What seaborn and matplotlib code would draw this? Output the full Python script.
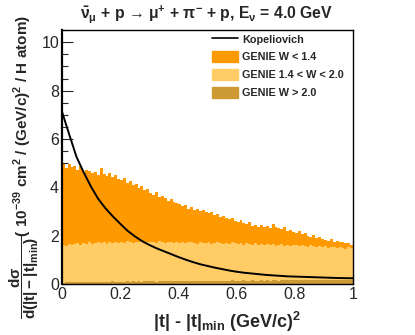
import numpy as np
import pandas as pd
import matplotlib
matplotlib.use("Agg")
import matplotlib.pyplot as plt
import seaborn as sns
from matplotlib.patches import Patch
from matplotlib.lines import Line2D
from matplotlib.ticker import MultipleLocator

# DATA

bin_edges = list(np.round(np.linspace(0, 1, 101), 4))
bin_centers = [round(e + 0.005, 4) for e in bin_edges[:-1]]

# top of the stack (all GENIE)
total_top = [
    4.95, 4.80, 4.98, 4.85, 4.90, 4.72, 4.88, 4.62, 4.70, 4.66,
    4.58, 4.64, 4.52, 4.78, 4.55, 4.48, 4.60, 4.42, 4.50, 4.35,
    4.30, 4.38, 4.18, 4.25, 4.10, 4.15, 3.98, 4.05, 3.88, 3.92,
    3.78, 3.70, 3.82, 3.62, 3.66, 3.58, 3.45, 3.52, 3.40, 3.36,
    3.30, 3.22, 3.28, 3.12, 3.18, 3.05, 3.10, 3.02, 3.08, 2.96,
    2.92, 2.98, 2.84, 2.88, 2.76, 2.80, 2.72, 2.68, 2.74, 2.62,
    2.58, 2.64, 2.52, 2.47, 2.55, 2.42, 2.45, 2.38, 2.44, 2.36,
    2.40, 2.33, 2.48, 2.36, 2.30, 2.26, 2.34, 2.20, 2.24, 2.16,
    2.12, 2.18, 2.06, 2.10, 2.00, 1.96, 2.04, 1.92, 1.95, 1.88,
    1.84, 1.80, 1.86, 1.76, 1.78, 1.72, 1.76, 1.68, 1.70, 1.60,
]

# top of the W > 1.4 part
mid_top = [
    1.62, 1.58, 1.66, 1.60, 1.64, 1.70, 1.62, 1.68, 1.64, 1.72,
    1.66, 1.70, 1.74, 1.68, 1.72, 1.66, 1.76, 1.70, 1.72, 1.68,
    1.74, 1.70, 1.78, 1.72, 1.68, 1.76, 1.72, 1.80, 1.70, 1.74,
    1.72, 1.76, 1.70, 1.78, 1.74, 1.68, 1.76, 1.72, 1.70, 1.74,
    1.70, 1.74, 1.68, 1.72, 1.76, 1.70, 1.66, 1.72, 1.70, 1.68,
    1.72, 1.66, 1.70, 1.74, 1.68, 1.64, 1.70, 1.66, 1.72, 1.68,
    1.64, 1.68, 1.62, 1.70, 1.66, 1.62, 1.68, 1.60, 1.66, 1.62,
    1.64, 1.60, 1.66, 1.58, 1.62, 1.64, 1.58, 1.62, 1.56, 1.60,
    1.62, 1.56, 1.60, 1.58, 1.54, 1.60, 1.56, 1.52, 1.58, 1.54,
    1.56, 1.50, 1.54, 1.52, 1.48, 1.54, 1.50, 1.46, 1.52, 1.48,
]

# W > 2.0 part
high_top = [
    0.06, 0.08, 0.07, 0.09, 0.08, 0.07, 0.09, 0.08, 0.10, 0.08,
    0.09, 0.08, 0.10, 0.09, 0.08, 0.10, 0.09, 0.11, 0.09, 0.10,
    0.10, 0.09, 0.11, 0.10, 0.12, 0.10, 0.11, 0.10, 0.12, 0.11,
    0.11, 0.12, 0.10, 0.12, 0.11, 0.13, 0.11, 0.12, 0.12, 0.11,
    0.12, 0.13, 0.11, 0.12, 0.13, 0.12, 0.14, 0.12, 0.13, 0.12,
    0.13, 0.12, 0.14, 0.13, 0.12, 0.14, 0.13, 0.13, 0.15, 0.13,
    0.14, 0.13, 0.15, 0.14, 0.13, 0.15, 0.14, 0.14, 0.16, 0.14,
    0.15, 0.14, 0.16, 0.15, 0.14, 0.16, 0.15, 0.15, 0.17, 0.15,
    0.16, 0.15, 0.17, 0.16, 0.15, 0.17, 0.16, 0.16, 0.18, 0.16,
    0.17, 0.16, 0.18, 0.17, 0.16, 0.18, 0.17, 0.17, 0.18, 0.17,
]

kop_t = [
    0.000, 0.025, 0.050, 0.075, 0.100, 0.125, 0.150, 0.175, 0.200, 0.225,
    0.250, 0.275, 0.300, 0.325, 0.350, 0.375, 0.400, 0.425, 0.450, 0.475,
    0.500, 0.525, 0.550, 0.575, 0.600, 0.625, 0.650, 0.675, 0.700, 0.725,
    0.750, 0.775, 0.800, 0.825, 0.850, 0.875, 0.900, 0.925, 0.950, 0.975,
    1.000,
]
kop_xsec = [
    7.15, 6.20, 5.27, 4.62, 4.03, 3.52, 3.13, 2.80, 2.50, 2.21,
    1.98, 1.78, 1.62, 1.48, 1.36, 1.24, 1.12, 1.01, 0.91, 0.82,
    0.75, 0.68, 0.62, 0.56, 0.51, 0.47, 0.44, 0.41, 0.38, 0.36,
    0.34, 0.32, 0.31, 0.30, 0.29, 0.28, 0.27, 0.26, 0.25, 0.245,
    0.24,
]

labels = ["GENIE W < 1.4", "GENIE 1.4 < W < 2.0", "GENIE W > 2.0"]
colors = ["#ff9900", "#ffcc66", "#cc9933"]

# BUILD TABLE

low = np.array(total_top) - np.array(mid_top)
mid = np.array(mid_top) - np.array(high_top)
high = np.array(high_top)

df = pd.concat([
    pd.DataFrame({"t": bin_centers, "w": low, "comp": labels[0]}),
    pd.DataFrame({"t": bin_centers, "w": mid, "comp": labels[1]}),
    pd.DataFrame({"t": bin_centers, "w": high, "comp": labels[2]}),
], ignore_index=True)

# PLOT

sns.set_style("ticks")
plt.rcParams["font.family"] = ["Liberation Sans", "DejaVu Sans"]
plt.rcParams["mathtext.default"] = "regular"

fig = plt.figure(figsize=(4.15, 3.35), dpi=100)
ax = fig.add_axes([0.149, 0.152, 0.702, 0.758])

sns.histplot(data=df, x="t", weights="w", hue="comp", hue_order=labels,
             bins=bin_edges, multiple="stack", element="step", fill=True,
             alpha=1, linewidth=0, palette=colors, legend=False, ax=ax)
sns.lineplot(x=kop_t, y=kop_xsec, color="black", linewidth=1.4, ax=ax)

ax.set_xlim(0, 1)
ax.set_ylim(0, 10.5)
ax.xaxis.set_minor_locator(MultipleLocator(0.04))
ax.yaxis.set_major_locator(MultipleLocator(2))
ax.yaxis.set_minor_locator(MultipleLocator(0.5))
ax.set_xticks([0, 0.2, 0.4, 0.6, 0.8, 1.0])
ax.set_xticklabels(["0", "0.2", "0.4", "0.6", "0.8", "1"])
ax.tick_params(which="both", direction="in", top=False, right=False,
               labelsize=11.5, width=0.8, pad=2)
ax.tick_params(which="major", length=8)
ax.tick_params(which="minor", length=4)
for s in ax.spines.values():
    s.set_visible(True)
    s.set_linewidth(1)
    s.set_color("black")
ax.spines["left"].set_linewidth(1.6)

ax.set_xlabel(r"|t| - |t|$_{min}$ (GeV/c)$^{2}$", fontsize=13, fontweight="bold")
ax.xaxis.set_label_coords(0.567, -0.10)
ax.set_ylabel("")

fig.text(24 / 415, 1 - 167 / 335,
         r"$\dfrac{d\sigma}{d(|t|-|t|_{min})}$( 10$^{-39}$ cm$^{2}$ / (GeV/c)$^{2}$ / H atom)",
         rotation=90, ha="center", va="center", fontsize=11, fontweight="bold")

fig.text(207 / 415, 1 - 14 / 335,
         r"$\bar{\nu}_{\mu}$ + p → $\mu^{+}$ + $\pi^{-}$ + p, E$_{\nu}$ = 4.0 GeV",
         ha="center", va="center", fontsize=11.3, fontweight="bold")

handles = [Line2D([0], [0], color="black", lw=1.2)] + \
          [Patch(facecolor=c, edgecolor=c) for c in colors]
ax.legend(handles, ["Kopeliovich"] + labels, loc="upper left",
          bbox_to_anchor=(0.508, 0.995), frameon=False,
          prop={"weight": "bold", "size": 7.8}, handlelength=2.4,
          handleheight=1.15, handletextpad=0.35, labelspacing=0.62,
          borderpad=0.1, borderaxespad=0.1)

plt.savefig("out.png", dpi=100)
